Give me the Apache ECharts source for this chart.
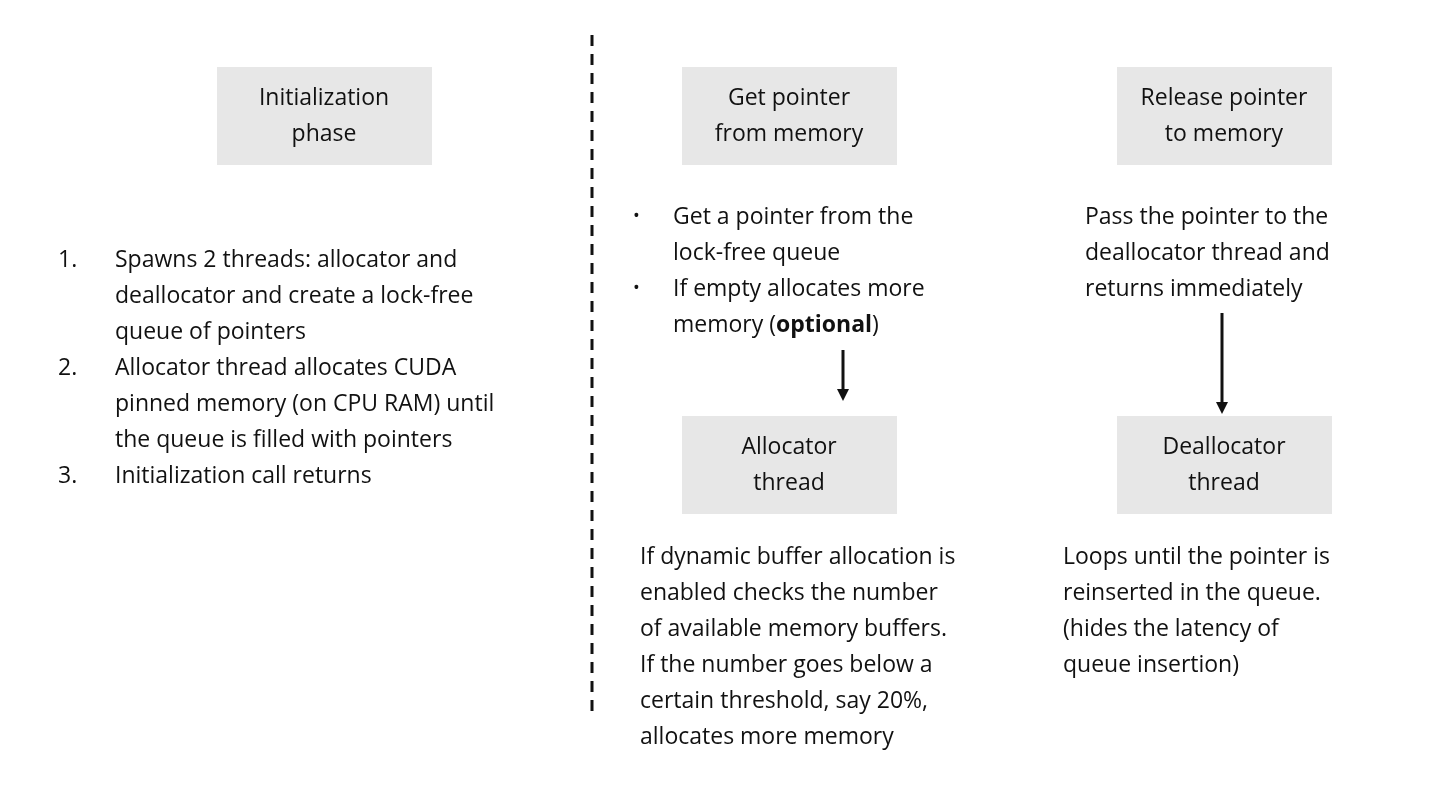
<!DOCTYPE html>
<html>
<head>
<meta charset="utf-8">
<script src="https://cdn.jsdelivr.net/npm/echarts@6/dist/echarts.min.js"></script>
<style>html,body{margin:0;padding:0;background:#fff}#main{width:1440px;height:810px}</style>
</head>
<body>
<div id="main"></div>
<script>
var myChart = echarts.init(document.getElementById('main'), null, { renderer: 'canvas' });

// boxes: [label, left, top]
const boxes = [
    ['Initialization\nphase', 217, 67],
    ['Get pointer\nfrom memory', 682, 67],
    ['Release pointer\nto memory', 1117, 67],
    ['Allocator\nthread', 682, 416],
    ['Deallocator\nthread', 1117, 416]
];

const initSteps = [
    ['1.', 'Spawns 2 threads: allocator and'],
    ['', 'deallocator and create a lock-free'],
    ['', 'queue of pointers'],
    ['2.', 'Allocator thread allocates CUDA'],
    ['', 'pinned memory (on CPU RAM) until'],
    ['', 'the queue is filled with pointers'],
    ['3.', 'Initialization call returns']
];

const getLines = [
    ['•', 'Get a pointer from the'],
    ['', 'lock-free queue'],
    ['•', 'If empty allocates more'],
    ['', 'memory ({b|optional})']
];

const releaseLines = ['Pass the pointer to the', 'deallocator thread and', 'returns immediately'];

const allocLines = [
    'If dynamic buffer allocation is',
    'enabled checks the number',
    'of available memory buffers.',
    'If the number goes below a',
    'certain threshold, say 20%,',
    'allocates more memory'
];

const deallocLines = [
    'Loops until the pointer is',
    'reinserted in the queue.',
    '(hides the latency of',
    'queue insertion)'
];

const FONT = '"Open Sans", sans-serif';
const FS = 23;
const LH = 36;
var elements = [];

function txt(x, y, s, align, size) {
    elements.push({
        type: 'text', x: x, y: y,
        style: {
            text: s, fill: '#111', font: (size || FS) + 'px ' + FONT,
            textAlign: align || 'left', textVerticalAlign: 'middle',
            rich: { b: { fontWeight: 'bold', fontSize: FS, fontFamily: FONT, fill: '#111' } }
        }
    });
}

boxes.forEach(function (b) {
    elements.push({ type: 'rect', shape: { x: b[1], y: b[2], width: 215, height: 98 }, style: { fill: '#e7e7e7' } });
    elements.push({
        type: 'text', x: b[1] + 107, y: b[2] + 49,
        style: { text: b[0], fill: '#111', font: FS + 'px ' + FONT, textAlign: 'center', textVerticalAlign: 'middle', lineHeight: 36 }
    });
});

initSteps.forEach(function (l, i) {
    if (l[0]) txt(58, 260 + i * LH, l[0]);
    txt(115, 260 + i * LH, l[1]);
});
getLines.forEach(function (l, i) {
    if (l[0]) txt(633, 217 + i * LH, l[0], 'left', 18);
    txt(673, 217 + i * LH, l[1]);
});
releaseLines.forEach(function (s, i) { txt(1085, 217 + i * LH, s); });
allocLines.forEach(function (s, i) { txt(640, 557 + i * LH, s); });
deallocLines.forEach(function (s, i) { txt(1063, 557 + i * LH, s); });

// divider
elements.push({ type: 'line', shape: { x1: 592, y1: 35, x2: 592, y2: 718 }, style: { stroke: '#111', lineWidth: 3, lineDash: [11, 8] } });

// arrows
function arrow(x, y1, y2) {
    elements.push({ type: 'line', shape: { x1: x, y1: y1, x2: x, y2: y2 - 10 }, style: { stroke: '#111', lineWidth: 3 } });
    elements.push({ type: 'polygon', shape: { points: [[x - 6, y2 - 12], [x + 6, y2 - 12], [x, y2]] }, style: { fill: '#111' } });
}
arrow(843, 350, 401);
arrow(1222, 313, 414);

var option = { backgroundColor: '#fff', graphic: { elements: elements } };
myChart.setOption(option);
window.addEventListener('resize', myChart.resize);
</script>
</body>
</html>
